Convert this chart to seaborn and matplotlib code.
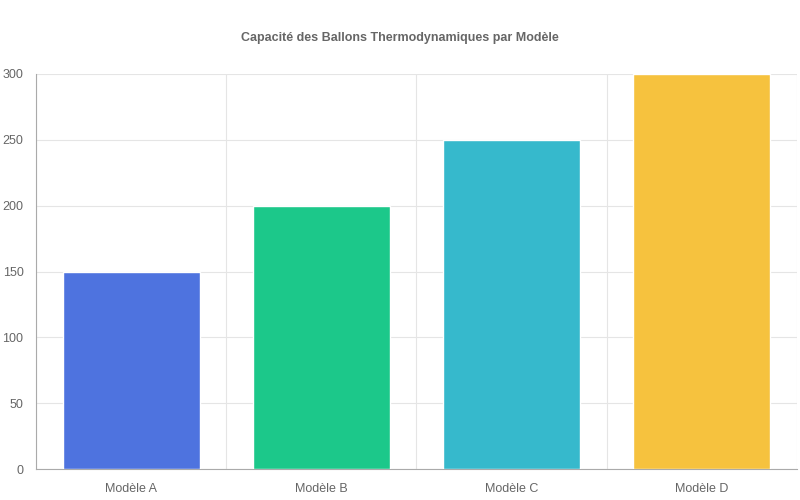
import matplotlib
matplotlib.use("Agg")
import matplotlib.pyplot as plt
import seaborn as sns
import numpy as np

# Données du graphique
modeles = ["Modèle A", "Modèle B", "Modèle C", "Modèle D"]
capacites = [150, 200, 250, 300]
couleurs = ["#4e73df", "#1cc88a", "#36b9cc", "#f6c23e"]

sns.set_style("white")
plt.rcParams["font.family"] = ["Liberation Sans", "DejaVu Sans"]

fig = plt.figure(figsize=(8, 5), dpi=100)
ax = fig.add_axes([0.045, 0.062, 0.951, 0.79])

sns.barplot(x=modeles, y=capacites, hue=modeles, palette=couleurs,
            width=0.72, saturation=1, legend=False, ax=ax, zorder=3)

ax.set_ylim(0, 300)
ax.set_xlim(-0.5, len(modeles) - 0.5)
ax.set_yticks(np.arange(0, 301, 50))
ax.set_xticks(np.arange(-0.5, len(modeles)), minor=True)
ax.grid(axis="y", color="#e5e5e5", linewidth=0.8, zorder=0)
ax.grid(axis="x", which="minor", color="#e5e5e5", linewidth=0.8, zorder=0)
ax.grid(axis="x", which="major", visible=False)

for s in ["top", "right"]:
    ax.spines[s].set_visible(False)
for s in ["left", "bottom"]:
    ax.spines[s].set_color("#aaaaaa")
    ax.spines[s].set_linewidth(0.8)

ax.tick_params(axis="x", which="major", length=0, labelsize=9, labelcolor="#666666", pad=10)
ax.tick_params(axis="x", which="minor", length=10, color="#dddddd")
ax.tick_params(axis="y", length=6, color="#dddddd", labelsize=9, labelcolor="#666666", pad=3)
ax.set_xlabel("")
ax.set_ylabel("")

fig.suptitle("Capacité des Ballons Thermodynamiques par Modèle", y=0.935,
             fontsize=9, fontweight="bold", color="#666666")

fig.savefig("out.png", dpi=100)
